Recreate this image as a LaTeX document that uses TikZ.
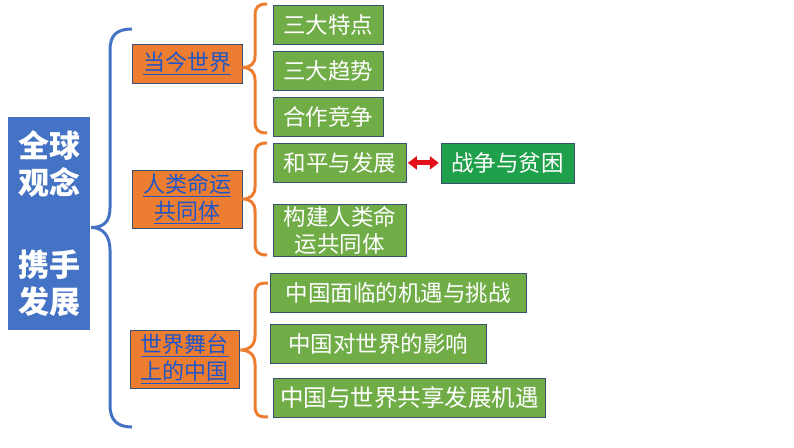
\documentclass[tikz,border=0pt]{standalone}
\usepackage{fontspec}
\setmainfont{Noto Sans CJK SC}
\usetikzlibrary{arrows.meta,positioning,calc}
\definecolor{rootblue}{HTML}{4472C4}
\definecolor{topicorange}{HTML}{ED7D31}
\definecolor{itemgreen}{HTML}{70AD47}
\definecolor{wargreen}{HTML}{1FA04A}
\definecolor{boxline}{HTML}{3A5070}
\definecolor{linkblue}{HTML}{1F56C8}
\definecolor{duored}{HTML}{E3101B}

\begin{document}
\begin{tikzpicture}[
  x=1pt, y=-1pt,
  root/.style={fill=rootblue, text=white, align=center, inner sep=0pt,
               font=\fontsize{31}{37}\selectfont\bfseries,
               minimum width=82pt, minimum height=213pt},
  topic/.style={fill=topicorange, draw=boxline, line width=0.8pt, text=linkblue,
                align=center, inner sep=0pt, font=\fontsize{22}{27}\selectfont,
                minimum width=110pt},
  item/.style={fill=itemgreen, draw=boxline, line width=0.8pt, text=white,
               align=center, inner sep=0pt, anchor=north west,
               font=\fontsize{22.5}{27}\selectfont, minimum height=39pt},
  bluebrace/.style={draw=rootblue, line width=3pt},
  orangebrace/.style={draw=topicorange, line width=3pt},
  duo/.style={{Triangle[width=13pt,length=9pt]}-{Triangle[width=13pt,length=9pt]},
              line width=5pt, color=duored},
]
\useasboundingbox (0,0) rectangle (794,447);

% ---- root ----
\node[root] (R) at (49,223.5) {全球\\观念\\[45pt]携手\\发展};

% ---- topics (orange) ----
\node[topic, minimum height=39pt] (T1) at (187,63.5) {\underline{当今世界}};
\node[topic, minimum height=58pt] (T2) at (187,199) {\underline{人类命运}\\\underline{共同体}};
\node[topic, minimum height=58pt, minimum width=109pt] (T3) at (184.5,359)
  {\underline{世界舞台}\\\underline{上的中国}};

% ---- items (green) ----
\node[item, minimum width=110pt] (I1) at (273,5) {三大特点};
\node[item, minimum width=110pt] (I2) [below=6pt of I1.south west, anchor=north west] {三大趋势};
\node[item, minimum width=110pt] (I3) [below=6pt of I2.south west, anchor=north west] {合作竞争};
\node[item, minimum width=133pt] (I4) at (273,143) {和平与发展};
\node[item, minimum width=133pt, minimum height=52pt] (I5) at (273,204) {构建人类命\\运共同体};
\node[item, minimum width=256pt] (I6) at (270,273) {中国面临的机遇与挑战};
\node[item, minimum width=216pt] (I7) at (270,324) {中国对世界的影响};
\node[item, minimum width=272pt, font=\fontsize{23.5}{27}\selectfont] (I8) at (273,378)
  {中国与世界共享发展机遇};
\node[item, fill=wargreen, minimum width=133pt, minimum height=40pt, anchor=west]
  (W) [right=34pt of I4] {战争与贫困};

% ---- double arrow ----
\draw[duo] ($(I4.east)+(1,0)$) -- ($(W.west)+(-2,0)$);

% ---- brace: root -> topics ----
\coordinate (bT) at (132,29);
\coordinate (bB) at (132,427);
\coordinate (bTip) at ($(R.east)+(1,4)$);
\draw[bluebrace] (bT) .. controls +(-15,0) and +(0,-15) .. (110,50) -- (110,208)
  .. controls +(0,14) and +(12,0) .. (bTip)
  .. controls +(12,0) and +(0,-14) .. (110,250) -- (110,405)
  .. controls +(0,15) and +(-15,0) .. (bB);

% ---- braces: topics -> items ----
\coordinate (o1T) at (267,4);   \coordinate (o1B) at (267,133);
\coordinate (o2T) at (267,143); \coordinate (o2B) at (267,255);
\coordinate (o3T) at (268,283); \coordinate (o3B) at (268,417);
\coordinate (tip1) at ($(T1.east)+(0,4)$);
\coordinate (tip2) at (T2.east);
\coordinate (tip3) at ($(T3.east)+(1,-9)$);
\draw[orangebrace] (o1T) .. controls +(-9,0) and +(0,-9) .. (255,16) -- (255,56)
  .. controls +(0,8) and +(8,0) .. (tip1)
  .. controls +(8,0) and +(0,-8) .. (255,80) -- (255,121)
  .. controls +(0,9) and +(-9,0) .. (o1B);
\draw[orangebrace] (o2T) .. controls +(-9,0) and +(0,-9) .. (255,155) -- (255,187)
  .. controls +(0,8) and +(8,0) .. (tip2)
  .. controls +(8,0) and +(0,-8) .. (255,211) -- (255,243)
  .. controls +(0,9) and +(-9,0) .. (o2B);
\draw[orangebrace] (o3T) .. controls +(-10,0) and +(0,-10) .. (255,295) -- (255,336)
  .. controls +(0,9) and +(9,0) .. (tip3)
  .. controls +(9,0) and +(0,-9) .. (255,364) -- (255,405)
  .. controls +(0,10) and +(-10,0) .. (o3B);
\end{tikzpicture}
\end{document}
